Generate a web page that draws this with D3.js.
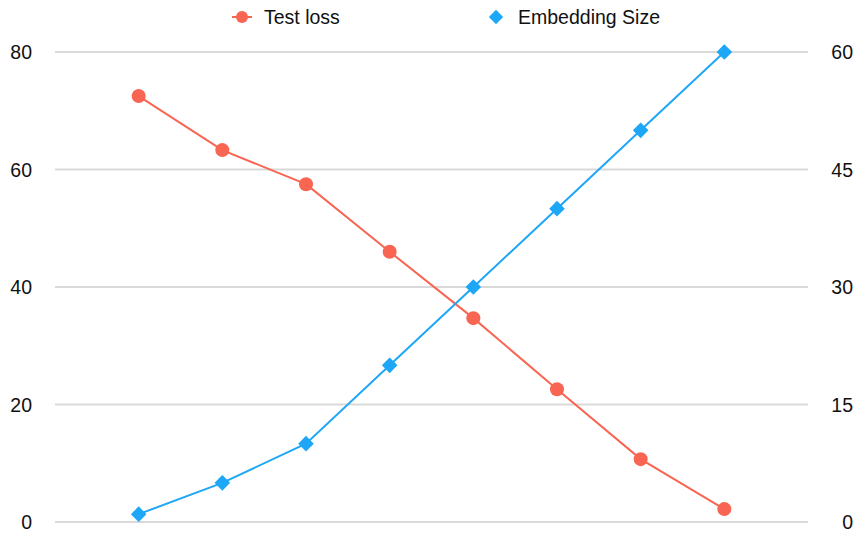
<!DOCTYPE html>
<html>
<head>
<meta charset="utf-8">
<script src="https://cdn.jsdelivr.net/npm/d3@7"></script>
<style>
  body { margin: 0; background: #fff; }
  text { font-family: "Liberation Sans", Arial, sans-serif; fill: #111; }
</style>
</head>
<body>
<div id="chart"></div>
<script>
// Data
const categories = ["1", "5", "10", "20", "30", "40", "50", "60"];
const testLoss = [72.5, 63.3, 57.5, 46.0, 34.7, 22.6, 10.7, 2.2];
const embeddingSize = [1, 5, 10, 20, 30, 40, 50, 60];
const leftTicks = [0, 20, 40, 60, 80];
const rightTicks = [0, 15, 30, 45, 60];

const width = 859, height = 535;
const plotLeft = 55, plotRight = 808, plotTop = 52, plotBottom = 522;
const red = "#f86552", blue = "#1ea6f7";
const fontSize = "19.5px";

const svg = d3.select("#chart")
  .append("svg")
  .attr("width", width)
  .attr("height", height);

// Scales
const x = d3.scalePoint().domain(categories).range([plotLeft, plotRight]).padding(1);
const yL = d3.scaleLinear().domain([0, 80]).range([plotBottom, plotTop]);
const yR = d3.scaleLinear().domain([0, 60]).range([plotBottom, plotTop]);

// Gridlines
svg.append("g")
  .selectAll("line")
  .data(leftTicks)
  .enter()
  .append("line")
  .attr("x1", plotLeft)
  .attr("x2", plotRight)
  .attr("y1", (d) => yL(d))
  .attr("y2", (d) => yL(d))
  .attr("stroke", "#d9d9d9")
  .attr("stroke-width", 2);

// Left axis
const axisL = svg.append("g")
  .attr("transform", `translate(${plotLeft - 23},0)`)
  .call(d3.axisLeft(yL).tickValues(leftTicks).tickSize(0).tickPadding(0));
axisL.select(".domain").remove();
axisL.selectAll("text").style("font-size", fontSize).style("font-family", "Liberation Sans, Arial, sans-serif").attr("dy", "0.35em").attr("fill", "#111");

// Right axis
const axisR = svg.append("g")
  .attr("transform", `translate(${plotRight + 45},0)`)
  .call(d3.axisLeft(yR).tickValues(rightTicks).tickSize(0).tickPadding(0));
axisR.select(".domain").remove();
axisR.selectAll("text").style("font-size", fontSize).style("font-family", "Liberation Sans, Arial, sans-serif").attr("dy", "0.35em").attr("fill", "#111");

// Lines
const lossLine = d3.line().x((d, i) => x(categories[i])).y((d) => yL(d));
const embLine = d3.line().x((d, i) => x(categories[i])).y((d) => yR(d));

svg.append("path")
  .datum(testLoss)
  .attr("d", lossLine)
  .attr("fill", "none")
  .attr("stroke", red)
  .attr("stroke-width", 2);

svg.append("path")
  .datum(embeddingSize)
  .attr("d", embLine)
  .attr("fill", "none")
  .attr("stroke", blue)
  .attr("stroke-width", 2);

// Markers
svg.append("g")
  .selectAll("circle")
  .data(testLoss)
  .enter()
  .append("circle")
  .attr("cx", (d, i) => x(categories[i]))
  .attr("cy", (d) => yL(d))
  .attr("r", 7)
  .attr("fill", red);

const diamond = d3.symbol().type(d3.symbolDiamond2).size(155);
svg.append("g")
  .selectAll("path")
  .data(embeddingSize)
  .enter()
  .append("path")
  .attr("d", diamond)
  .attr("transform", (d, i) => `translate(${x(categories[i])},${yR(d)})`)
  .attr("fill", blue);

// Legend
const legend = svg.append("g");
legend.append("line")
  .attr("x1", 232).attr("x2", 252).attr("y1", 17).attr("y2", 17)
  .attr("stroke", red).attr("stroke-width", 2);
legend.append("circle").attr("cx", 242).attr("cy", 17).attr("r", 6).attr("fill", red);
legend.append("text").attr("x", 264).attr("y", 17).attr("dy", "0.35em")
  .style("font-size", fontSize).text("Test loss");

legend.append("path")
  .attr("d", d3.symbol().type(d3.symbolDiamond2).size(130))
  .attr("transform", "translate(496,17)")
  .attr("fill", blue);
legend.append("text").attr("x", 518).attr("y", 17).attr("dy", "0.35em")
  .style("font-size", fontSize).text("Embedding Size");
</script>
</body>
</html>
